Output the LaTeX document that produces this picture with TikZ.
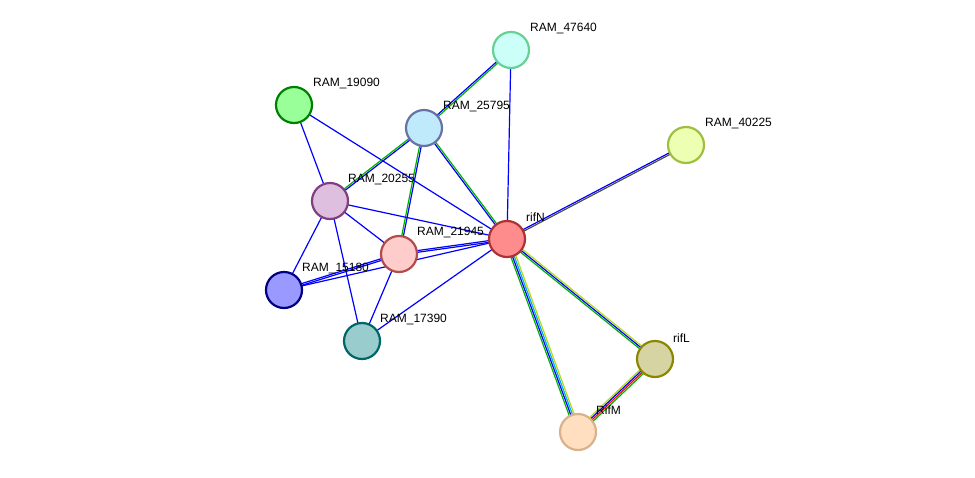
\documentclass[tikz,border=0pt]{standalone}
\usepackage{fontspec}
\setmainfont{Liberation Sans}
\usetikzlibrary{calc}

\tikzset{
  prot/.style={circle, minimum size=36pt, inner sep=0pt, line width=2.2pt},
  lbl/.style={anchor=south west, inner sep=1pt, font=\fontsize{12}{14}\selectfont},
}
\newcommand{\edgeset}[3]{%
  \foreach \c [count=\i] in {#3} {\xdef\nn{\i}}%
  \foreach \c [count=\i] in {#3} {
    \pgfmathsetmacro{\off}{(\i-(\nn+1)/2)*1.7}
    \draw[\c, line width=1.2pt] ($(#1)!\off pt!90:(#2)$) -- ($(#2)!\off pt!-90:(#1)$);
  }}

\begin{document}
\begin{tikzpicture}[x=1pt, y=-1pt]
\useasboundingbox (0,0) rectangle (975,477);

% node positions
\coordinate (p47640) at (511,50);
\coordinate (p19090) at (294,105);
\coordinate (p25795) at (424,128);
\coordinate (p40225) at (686,145);
\coordinate (p20255) at (330,201);
\coordinate (prifN) at (507,239);
\coordinate (p21945) at (399,254);
\coordinate (p15180) at (284,290);
\coordinate (p17390) at (362,341);
\coordinate (prifL) at (655,359);
\coordinate (pRifM) at (578,432);

% connectors
\edgeset{p19090}{p20255}{blue}
\edgeset{p19090}{prifN}{blue}
\edgeset{p25795}{p47640}{green!70!black,blue}
\edgeset{p47640}{prifN}{blue}
\edgeset{p25795}{p20255}{green!70!black,blue}
\edgeset{p25795}{p21945}{green!70!black,blue}
\edgeset{p25795}{prifN}{blue,green!70!black}
\edgeset{p40225}{prifN}{blue,black!70}
\edgeset{p20255}{prifN}{blue}
\edgeset{p20255}{p21945}{blue}
\edgeset{p20255}{p15180}{blue}
\edgeset{p20255}{p17390}{blue}
\edgeset{p21945}{prifN}{blue,blue}
\edgeset{p15180}{p21945}{blue,blue}
\edgeset{p15180}{prifN}{blue}
\edgeset{p17390}{p21945}{blue}
\edgeset{p17390}{prifN}{blue}
\edgeset{prifN}{prifL}{green!70!black,blue,yellow!70!green}
\edgeset{prifN}{pRifM}{green!70!black,blue,cyan,yellow!70!green}
\edgeset{prifL}{pRifM}{yellow!70!green,blue,red,green!70!black}

% proteins
\node[prot, fill=green!15!cyan!20, draw=green!40!teal!60] (n47640) at (p47640) {};
\node[prot, fill=green!40!white, draw=green!50!black] (n19090) at (p19090) {};
\node[prot, fill=cyan!25, draw=cyan!30!blue!50!gray] (n25795) at (p25795) {};
\node[prot, fill=lime!30, draw=lime!50!gray] (n40225) at (p40225) {};
\node[prot, fill=violet!25, draw=violet!50!gray] (n20255) at (p20255) {};
\node[prot, fill=red!45, draw=red!60!black!80] (nrifN) at (prifN) {};
\node[prot, fill=red!20, draw=red!40!gray] (n21945) at (p21945) {};
\node[prot, fill=blue!40, draw=blue!50!black] (n15180) at (p15180) {};
\node[prot, fill=teal!40, draw=teal!80!black] (n17390) at (p17390) {};
\node[prot, fill=yellow!40!gray!60, draw=olive] (nrifL) at (prifL) {};
\node[prot, fill=orange!25, draw=brown!60] (nRifM) at (pRifM) {};

% labels
\node[lbl] at (529,35) {RAM\_47640};
\node[lbl] at (312,90) {RAM\_19090};
\node[lbl] at (442,113) {RAM\_25795};
\node[lbl] at (704,130) {RAM\_40225};
\node[lbl] at (347,186) {RAM\_20255};
\node[lbl] at (525,223) {rifN};
\node[lbl] at (416,239) {RAM\_21945};
\node[lbl] at (301,275) {RAM\_15180};
\node[lbl] at (379,326) {RAM\_17390};
\node[lbl] at (672,344) {rifL};
\node[lbl] at (595,416) {RifM};
\end{tikzpicture}
\end{document}
